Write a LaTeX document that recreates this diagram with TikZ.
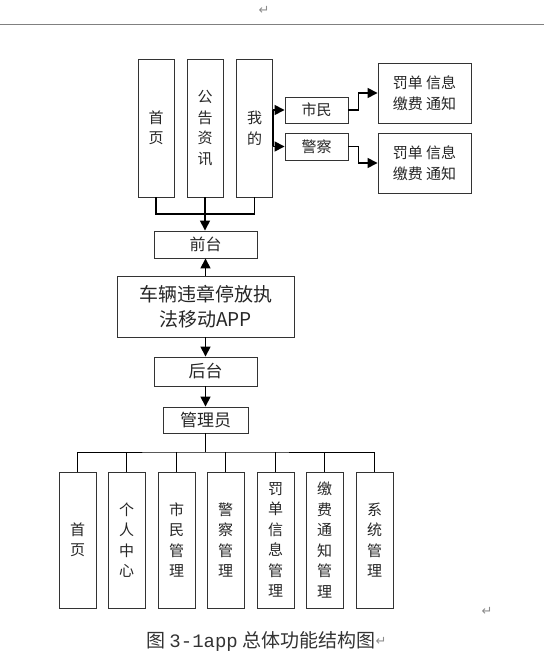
\documentclass[tikz,border=0pt]{standalone}
\usepackage{fontspec}
\setmainfont{Noto Sans CJK SC}
\newfontfamily\symf{DejaVu Sans}
\newfontfamily\monof{Liberation Mono}
\usetikzlibrary{arrows.meta}
\begin{document}
\begin{tikzpicture}[x=1pt,y=-1pt,
  box/.style={draw=black!80,line width=0.9pt,rectangle,inner sep=0pt,align=center,text=black!85,font=\fontsize{15}{20.5}\selectfont},
  conn/.style={draw=black,line width=1.5pt},
  arr/.style={conn,-{Triangle[length=10pt,width=10pt]}},
  ret/.style={text=black!45,font=\symf\fontsize{13}{13}\selectfont,inner sep=0pt}]
\useasboundingbox (0,0) rectangle (544,668);
\draw[black!50,line width=1pt] (0,24.5) -- (544,24.5);
\node[ret] (r1) at (264,10) {↵};
% top
\node[box,minimum width=36,minimum height=138] (t1) at (156,128) {首\\页};
\node[box,minimum width=36,minimum height=138] (t2) at (205,128) {公\\告\\资\\讯};
\node[box,minimum width=36,minimum height=138] (t3) at (254.5,128) {我\\的};
\node[box,minimum width=63,minimum height=26] (sm) at (316.5,110) {市民};
\node[box,minimum width=63,minimum height=27] (jc) at (316.5,146.5) {警察};
\node[box,minimum width=93,minimum height=60] (f1) at (424.5,93) {罚单 信息\\缴费 通知};
\node[box,minimum width=93,minimum height=60] (f2) at (424.5,163) {罚单 信息\\缴费 通知};
\node[box,minimum width=103,minimum height=27,font=\fontsize{16}{20}\selectfont] (qt) at (205.5,244.5) {前台};
\node[box,minimum width=177,minimum height=61,font=\fontsize{19}{25}\selectfont] (app) at (205.5,306.5) {车辆违章停放执\\法移动APP};
\node[box,minimum width=103,minimum height=29,font=\fontsize{17}{20}\selectfont] (ht) at (205.5,371.5) {后台};
\node[box,minimum width=85,minimum height=26,font=\fontsize{17}{20}\selectfont] (gly) at (205.5,420) {管理员};
% bottom
\foreach \n/\x/\t in {b1/77.5/{首\\页},b2/126.5/{个\\人\\中\\心},b3/176.5/{市\\民\\管\\理},b4/225.5/{警\\察\\管\\理},b5/275.5/{罚\\单\\信\\息\\管\\理},b6/324.5/{缴\\费\\通\\知\\管\\理},b7/374.5/{系\\统\\管\\理}}
  \node[box,minimum width=37,minimum height=136] (\n) at (\x,540) {\t};
% connectors top
\coordinate (j) at (205,214);
\draw[conn] (t1.south) |- (j) -| (t3.south);
\draw[conn] (t2.south) -- (j);
\draw[arr] (j) -- (qt.north -| j);
\draw[conn] (sm.west -| t3.east) -- (jc.west -| t3.east);
\draw[arr] (sm.west -| t3.east) -- (sm.west);
\draw[arr] (jc.west -| t3.east) -- (jc.west);
\draw[arr] (sm.east) -- ++(10,0) |- (f1.west);
\draw[arr] (jc.east) -- ++(10,0) |- (f2.west);
\draw[arr] (app.north) -- (qt.south);
\draw[arr] (app.south) -- (ht.north);
\draw[arr] (ht.south) -- (gly.north);
% bottom bus
\coordinate (bus) at (205.5,452);
\draw[conn] (gly.south) -- (bus);
\draw[black,line width=1pt] (b1.north) |- (bus) -| (b7.north);
\foreach \n in {b2,b3,b4,b5,b6} \draw[black,line width=1pt] (\n.north) -- (\n.north |- bus);
\node[ret] (r2) at (487,611) {↵};
\node[anchor=west,inner sep=0pt,text=black!80,font=\fontsize{19}{19}\selectfont] (cap) at (146,641) {图 {\monof 3-1app} 总体功能结构图};
\node[ret,anchor=west] (r3) at (cap.east) {↵};
\end{tikzpicture}
\end{document}
